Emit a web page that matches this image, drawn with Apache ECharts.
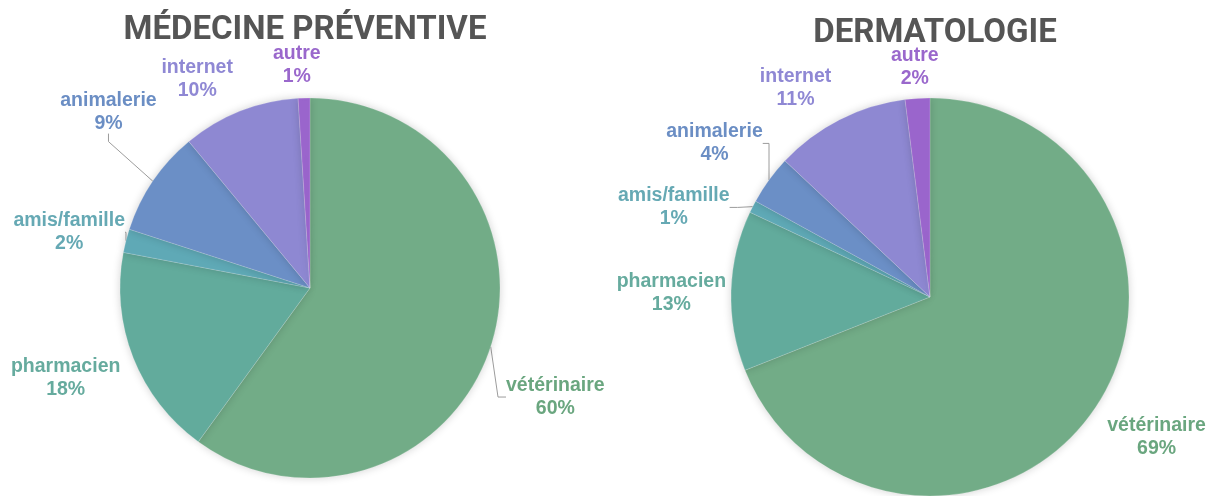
<!DOCTYPE html>
<html>
<head>
<meta charset="utf-8">
<script src="https://cdn.jsdelivr.net/npm/echarts@6/dist/echarts.min.js"></script>
<style>
  html, body { margin: 0; padding: 0; background: #fff; }
  #chart { width: 1206px; height: 496px; }
</style>
</head>
<body>
<div id="chart"></div>
<script>
// data
const categories = ["vétérinaire", "pharmacien", "amis/famille", "animalerie", "internet", "autre"]
const preventiveValues = [60, 18, 2, 9, 10, 1]
const dermatoValues = [69, 13, 1, 4, 11, 2]
const titles = ["MÉDECINE PRÉVENTIVE", "DERMATOLOGIE"]

const sliceColors = ["#72ac87", "#62ab9c", "#5fa9b6", "#6b8fc6", "#8e88d2", "#9a65cc"]
const labelColors = ["#6aa67f", "#66ab9e", "#66a9b4", "#6b8ec4", "#8f88d4", "#9a68cc"]
// which slices get a leader line, per chart
const showLines = [
  [true, false, true, true, false, false],
  [false, false, true, true, false, false]
]
// nudges (px) applied to the default label spots, per chart / slice
const labelOffsets = [
  [[-9, 46], [6, 15], [12, -5], [24, -62], [59, -50], [28, -19]],
  [[0, 20], [17, 3], [6, -12], [15, -31], [41, -41], [33, -17]]
]

const labelFont = "'Liberation Sans', Arial, sans-serif"

const chart = echarts.init(document.getElementById("chart"))

const buildData = (values, lines) =>
  categories.map((name, i) => ({
    name: name,
    value: values[i],
    itemStyle: { color: sliceColors[i] },
    label: { color: labelColors[i] },
    labelLine: { show: lines[i] }
  }))

const pieSeries = (values, lines, center, radius) => ({
  type: "pie",
  center: center,
  radius: radius,
  startAngle: 90,
  clockwise: true,
  silent: true,
  data: buildData(values, lines),
  itemStyle: {
    borderColor: "rgba(255,255,255,0.35)",
    borderWidth: 0.5,
    shadowBlur: 8,
    shadowColor: "rgba(0,0,0,0.18)"
  },
  label: {
    show: true,
    position: "outside",
    overflow: "none",
    formatter: "{n|{b}}\n{n|{c}%}",
    distanceToLabelLine: 3,
    rich: {
      n: {
        fontFamily: labelFont,
        fontWeight: "bold",
        fontSize: 19.5,
        lineHeight: 23,
        align: "center"
      }
    }
  },
  labelLine: {
    length: 14,
    length2: 8,
    lineStyle: { color: "#9c9c9c", width: 1 }
  },
  labelLayout: (params) => {
    const off = labelOffsets[params.seriesIndex][params.dataIndex]
    const r = params.labelRect
    return {
      x: r.x + r.width / 2 + off[0],
      y: r.y + r.height / 2 + off[1],
      align: "center",
      verticalAlign: "middle"
    }
  }
})

const option = {
  animation: false,
  title: [
    {
      text: titles[0],
      left: 300,
      top: 9,
      textAlign: "center",
      textStyle: {
        fontFamily: "Roboto, 'Liberation Sans', sans-serif",
        fontWeight: "bold",
        fontSize: 33,
        color: "#555555"
      }
    },
    {
      text: titles[1],
      left: 930,
      top: 12,
      textAlign: "center",
      textStyle: {
        fontFamily: "Roboto, 'Liberation Sans', sans-serif",
        fontWeight: "bold",
        fontSize: 33,
        color: "#555555"
      }
    }
  ],
  series: [
    pieSeries(preventiveValues, showLines[0], [310, 288], 190),
    pieSeries(dermatoValues, showLines[1], [930, 297], 199)
  ]
}

chart.setOption(option)
</script>
</body>
</html>
